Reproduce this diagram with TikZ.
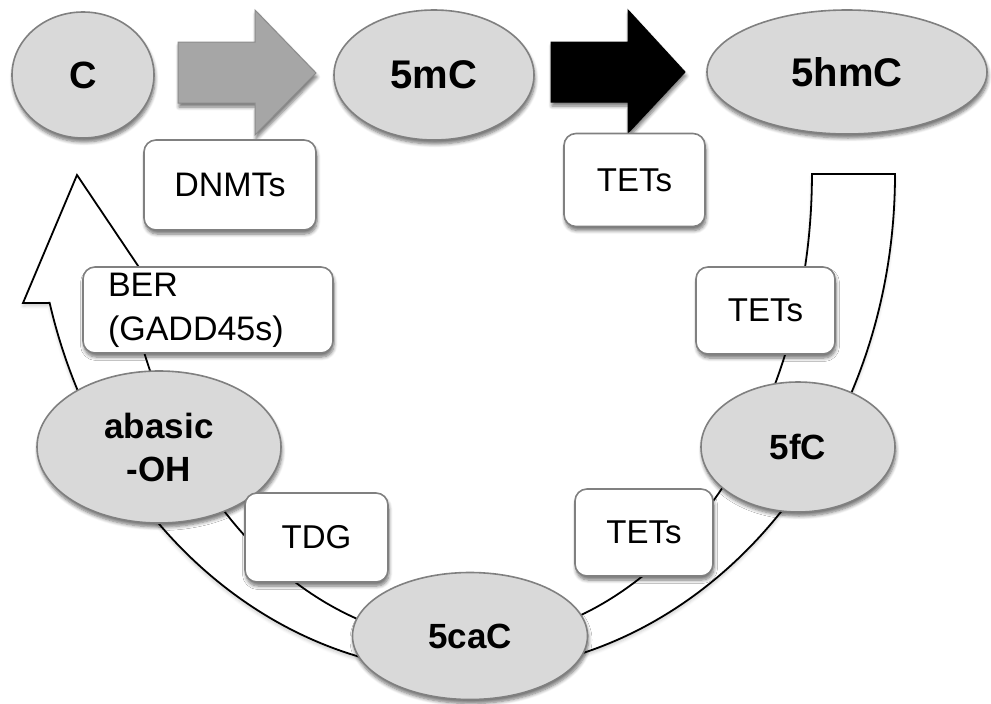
\documentclass[tikz,border=0pt]{standalone}
\usepackage{fontspec}
\setmainfont{Liberation Sans}
\usetikzlibrary{shapes.geometric,shadows.blur}

\definecolor{statefill}{RGB}{217,217,217}
\definecolor{edgegray}{RGB}{128,128,128}
\definecolor{arrowgray}{RGB}{166,166,166}
\definecolor{arrowedge}{RGB}{140,140,140}

\begin{document}
\begin{tikzpicture}[x=1pt,y=-1pt,
  softshadow/.style={blur shadow={shadow xshift=1pt, shadow yshift=-4pt,
      shadow blur steps=6, shadow blur radius=3.5pt, shadow opacity=55}},
  state/.style={ellipse, draw=edgegray, line width=1.6pt, fill=statefill,
      inner sep=0pt, align=center, softshadow,
      font=\bfseries\fontsize{35}{43}\selectfont},
  bigstate/.style={state, font=\bfseries\fontsize{40}{46}\selectfont},
  enzyme/.style={rectangle, rounded corners=12pt, draw=edgegray,
      line width=1.6pt, fill=white, inner sep=0pt, softshadow,
      font=\fontsize{33}{40}\selectfont},
  band/.style={draw=black, line width=1.8pt, fill=white, line join=miter,
      blur shadow={shadow xshift=0pt, shadow yshift=-3pt,
      shadow blur steps=5, shadow blur radius=3pt, shadow opacity=20}},
  blockarrow/.style={line width=1pt, softshadow},
]
\useasboundingbox (0,0) rectangle (991,704);

% return path: curved band from 5hmC side round the bottom back up to C
\draw[band] (895,174)
  arc[start angle=0, end angle=-165, x radius=430pt, y radius=498pt]
  -- (23,303) -- (77,175) -- (163,303) -- (131.4,303)
  arc[start angle=-164, end angle=0, x radius=347pt, y radius=468pt]
  -- cycle;

% block arrows of the top row
\draw[blockarrow, draw=arrowedge, fill=arrowgray]
  (178,42) -- (255,42) -- (255,10) -- (316,73) -- (255,135) -- (255,103)
  -- (178,103) -- cycle;
\draw[blockarrow, draw=black, fill=black]
  (551,42) -- (628,42) -- (628,10) -- (685,72) -- (628,133) -- (628,102)
  -- (551,102) -- cycle;

% cytosine states
\node[bigstate, minimum width=142pt, minimum height=126pt,
      font=\bfseries\fontsize{38}{44}\selectfont] (c) at (83,75) {C};
\node[bigstate, minimum width=200pt, minimum height=130pt] (mc) at (434,75) {5mC};
\node[bigstate, minimum width=280pt, minimum height=124pt] (hmc) at (847,72) {5hmC};
\node[state, minimum width=244pt, minimum height=152pt] (ab) at (159,447) {abasic\\-OH};
\node[state, minimum width=194pt, minimum height=130pt] (fc) at (798,447) {5fC};
\node[state, minimum width=235pt, minimum height=127pt] (cac) at (470,636) {5caC};

% enzymes
\node[enzyme, minimum width=172pt, minimum height=90pt,
      font=\fontsize{34}{40}\selectfont] (dnmt) at (230,185) {DNMTs};
\node[enzyme, minimum width=141pt, minimum height=93pt] (tet1) at (634.5,180) {TETs};
\node[enzyme, minimum width=250pt, minimum height=86pt, inner xsep=25pt,
      text width=200pt, align=left,
      font=\fontsize{34}{44}\selectfont] (ber) at (208,310) {BER\\(GADD45s)};
\node[enzyme, minimum width=139pt, minimum height=87pt] (tet2) at (765.5,310.5) {TETs};
\node[enzyme, minimum width=143pt, minimum height=89pt] (tdg) at (316.5,537.5) {TDG};
\node[enzyme, minimum width=138pt, minimum height=87pt] (tet3) at (644,532.5) {TETs};
\end{tikzpicture}
\end{document}
